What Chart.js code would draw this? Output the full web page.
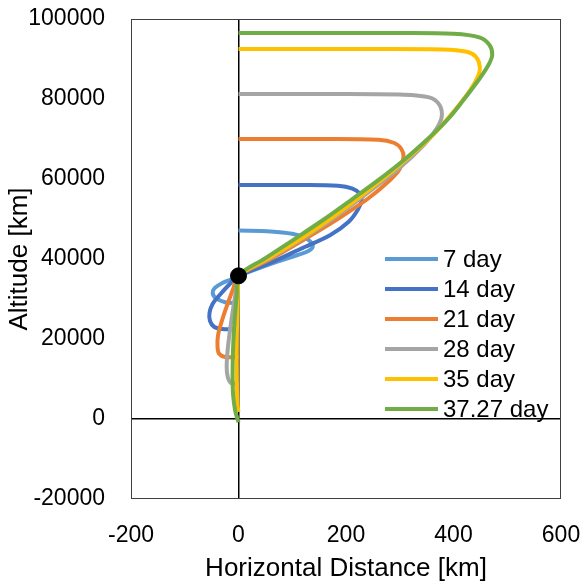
<!DOCTYPE html>
<html>
<head>
<meta charset="utf-8">
<script src="https://cdn.jsdelivr.net/npm/chart.js@4.4.1/dist/chart.umd.min.js"></script>
<style>
  body { margin: 0; background: #fff; }
</style>
</head>
<body>
<canvas id="chart" width="587" height="582"></canvas>
<script>
// Series labels
const seriesLabels = ['7 day', '14 day', '21 day', '28 day', '35 day', '37.27 day'];

// Horizontal distance [km] / altitude [km]
const day7X = [0, -25, -42, -48, -44, -30, -12, 0, 59, 110, 130, 138, 135, 124, 100, 60, 0];
const day7Y = [29000, 29200, 30200, 31500, 32800, 34000, 35000, 35786, 38750, 41000, 42000, 43000, 44200, 45300, 46300, 46900, 47100];

const day14X = [0, -30, -45, -53, -54, -48, -35, -18, 0, 59, 115, 171, 205, 222, 229, 226, 212, 185, 115, 0];
const day14Y = [22500, 22500, 23000, 24500, 26500, 28800, 31000, 33500, 35786, 39000, 42500, 46000, 49300, 52300, 54600, 56300, 57600, 58300, 58500, 58500];

const day21X = [0, -25, -36, -39, -38, -31, -21, -10, 0, 60, 120, 180, 240, 280, 300, 307, 303, 290, 260, 150, 0];
const day21Y = [15500, 15500, 16300, 18000, 21000, 24500, 28500, 32500, 35786, 40000, 44700, 49600, 55000, 59500, 62500, 65500, 67500, 69000, 69800, 70000, 70000];

const day28X = [0, -14, -20, -22, -20, -15, -9, -4, 0, 60, 120, 180, 240, 300, 345, 368, 378, 374, 355, 300, 150, 0];
const day28Y = [8750, 9000, 10500, 13000, 17500, 23000, 28500, 32500, 35786, 40300, 45200, 50500, 56500, 62800, 68500, 72500, 75500, 78500, 80400, 81100, 81250, 81250];

const day35X = [0, -2, -3, -3, -2, -1, 0, 60, 120, 180, 240, 300, 356, 400, 430, 446, 449, 442, 425, 380, 200, 0];
const day35Y = [1750, 3500, 10000, 20000, 28000, 33000, 35786, 40500, 45400, 50900, 57000, 63500, 70200, 76800, 82000, 85800, 88000, 90500, 91800, 92400, 92500, 92500];

const day37X = [0, -6, -10, -11, -10, -7, -3, 0, 50, 100, 160, 210, 260, 310, 356, 390, 420, 448, 465, 472, 467, 448, 400, 300, 0];
const day37Y = [-800, 2000, 6000, 11000, 18000, 25000, 31500, 35786, 40200, 44600, 50000, 54800, 59700, 65000, 70500, 75000, 80000, 85000, 88500, 91000, 93500, 95400, 96300, 96500, 96500];

// Geostationary point
const geoX = [0];
const geoY = [35786];

const seriesX = [day7X, day14X, day21X, day28X, day35X, day37X];
const seriesY = [day7Y, day14Y, day21Y, day28Y, day35Y, day37Y];
const seriesColors = ['#5B9BD5', '#4472C4', '#ED7D31', '#A5A5A5', '#FFC000', '#70AD47'];

const toPoints = (xs, ys) => xs.map((x, i) => ({ x: x, y: ys[i] }));

const datasets = seriesLabels.map((label, i) => ({
    label: label,
    data: toPoints(seriesX[i], seriesY[i]),
    showLine: true,
    borderColor: seriesColors[i],
    backgroundColor: seriesColors[i],
    borderWidth: 4,
    pointRadius: 0,
    tension: 0.35,
    order: seriesLabels.length - i
}));

datasets.push({
    label: 'GEO',
    data: toPoints(geoX, geoY),
    showLine: false,
    pointRadius: 8,
    backgroundColor: '#000',
    borderColor: '#000',
    order: 0
});

// Frame around the plot area
const framePlugin = {
    id: 'frame',
    afterDatasetsDraw(chart) {
        const { ctx, chartArea: a } = chart;
        ctx.save();
        ctx.strokeStyle = '#404040';
        ctx.lineWidth = 1;
        ctx.strokeRect(a.left + 0.5, a.top + 0.5, a.right - a.left - 1, a.bottom - a.top - 1);
        ctx.restore();
    }
};

// Legend drawn inside the plot
const innerLegend = {
    id: 'innerLegend',
    afterDraw(chart) {
        const ctx = chart.ctx;
        ctx.save();
        ctx.font = '24px "Liberation Sans", Arial, sans-serif';
        ctx.textBaseline = 'middle';
        ctx.fillStyle = '#000';
        seriesLabels.forEach((label, i) => {
            const y = 259 + i * 30;
            ctx.strokeStyle = seriesColors[i];
            ctx.lineWidth = 4;
            ctx.beginPath();
            ctx.moveTo(385, y);
            ctx.lineTo(438, y);
            ctx.stroke();
            ctx.fillText(label, 443, y + 1);
        });
        ctx.restore();
    }
};

const zeroGrid = ctx => (ctx.tick && ctx.tick.value === 0) ? '#000' : 'rgba(0,0,0,0)';

new Chart(document.getElementById('chart').getContext('2d'), {
    type: 'scatter',
    data: { datasets: datasets },
    options: {
        responsive: false,
        animation: false,
        layout: { padding: { left: 0, right: 26, top: 19, bottom: 0 } },
        plugins: {
            legend: { display: false },
            tooltip: { enabled: false }
        },
        scales: {
            x: {
                type: 'linear',
                min: -200,
                max: 600,
                ticks: {
                    stepSize: 200,
                    padding: 23,
                    color: '#000',
                    callback: v => String(v),
                    font: { family: '"Liberation Sans", Arial, sans-serif', size: 23 }
                },
                grid: { color: zeroGrid, lineWidth: 1.5, drawTicks: false },
                border: { display: false },
                title: {
                    display: true,
                    text: 'Horizontal Distance [km]',
                    color: '#000',
                    padding: { top: 0, bottom: -2 },
                    font: { family: '"Liberation Sans", Arial, sans-serif', size: 26 }
                },
                afterFit(scale) {
                    scale.height = 83;
                    scale.paddingLeft = 0;
                    scale.paddingRight = 0;
                }
            },
            y: {
                type: 'linear',
                min: -20000,
                max: 100000,
                ticks: {
                    stepSize: 20000,
                    padding: 26,
                    color: '#000',
                    callback: v => String(v),
                    font: { family: '"Liberation Sans", Arial, sans-serif', size: 23 }
                },
                grid: { color: zeroGrid, lineWidth: 1.5, drawTicks: false },
                border: { display: false },
                title: {
                    display: true,
                    text: 'Altitude [km]',
                    color: '#000',
                    padding: { top: 4, bottom: 0 },
                    font: { family: '"Liberation Sans", Arial, sans-serif', size: 26 }
                },
                afterFit(scale) {
                    scale.width = 131;
                    scale.paddingTop = 0;
                    scale.paddingBottom = 0;
                }
            }
        }
    },
    plugins: [framePlugin, innerLegend]
});
</script>
</body>
</html>
